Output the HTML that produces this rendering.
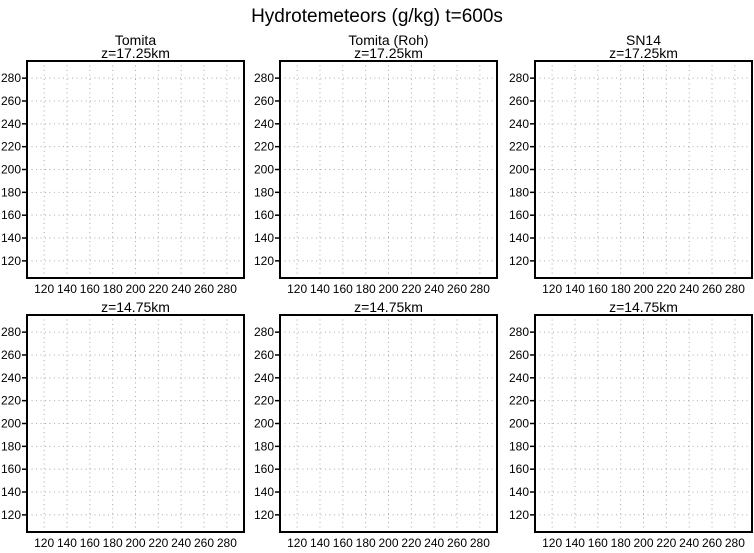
<!DOCTYPE html>
<html><head><meta charset="utf-8"><style>
body{margin:0;background:#fff}
svg text{font-family:"Liberation Sans",sans-serif;fill:#000}
</style></head><body>
<svg id="c" width="754" height="548" viewBox="0 0 754 548" xmlns="http://www.w3.org/2000/svg">
<text x="377" y="22" font-size="19" text-anchor="middle">Hydrotemeteors (g/kg) t=600s</text>
</svg>
<script>
const ticks=[120,140,160,180,200,220,240,260,280];
const domain=[105,295];
const colTitles=["Tomita","Tomita (Roh)","SN14"];
const rowTitles=["z=17.25km","z=14.75km"];
const svg=document.getElementById('c');
const NS="http://www.w3.org/2000/svg";
const cols=[27,280,535], W=217;
const rows=[61,315], H=217;
function mk(t,a,p){const e=document.createElementNS(NS,t);for(const k in a)e.setAttribute(k,a[k]);(p||svg).appendChild(e);return e;}
rows.forEach((top,ri)=>{cols.forEach((left,ci)=>{
  const g=mk('g',{});
  
  
  const sx=v=>left+(v-domain[0])/(domain[1]-domain[0])*W;
  const sy=v=>top+H-(v-domain[0])/(domain[1]-domain[0])*H;
  ticks.forEach(t=>{
    const gv=mk('line',{x1:sx(t),x2:sx(t),y1:top,y2:top+H,stroke:'#aaa','stroke-width':1,'stroke-dasharray':'1 3.5'},g);
    
    
    const gh=mk('line',{x1:left,x2:left+W,y1:sy(t),y2:sy(t),stroke:'#aaa','stroke-width':1,'stroke-dasharray':'1 3.5'},g);
    
    
    const tk=mk('line',{x1:left-5,x2:left,y1:sy(t),y2:sy(t),stroke:'#000','stroke-width':1.5},g);
    
    
    const yl=mk('text',{x:left-6,y:sy(t)+4,'font-size':12,'text-anchor':'end'},g);yl.textContent=t;
    
    
    const xl=mk('text',{x:sx(t),y:top+H+15,'font-size':12,'text-anchor':'middle'},g);xl.textContent=t;
    
    
  });
  const fr=mk('rect',{x:left,y:top,width:W,height:H,fill:'none',stroke:'#000','stroke-width':2},g);
  
  
  const zt=mk('text',{x:left+W/2,y:top-3,'font-size':14,'text-anchor':'middle'},g);zt.textContent=rowTitles[ri];
  
  
  if(ri===0){const ct=mk('text',{x:left+W/2,y:top-16,'font-size':14,'text-anchor':'middle'},g);ct.textContent=colTitles[ci];
    
    }
});});
</script>
</body></html>
